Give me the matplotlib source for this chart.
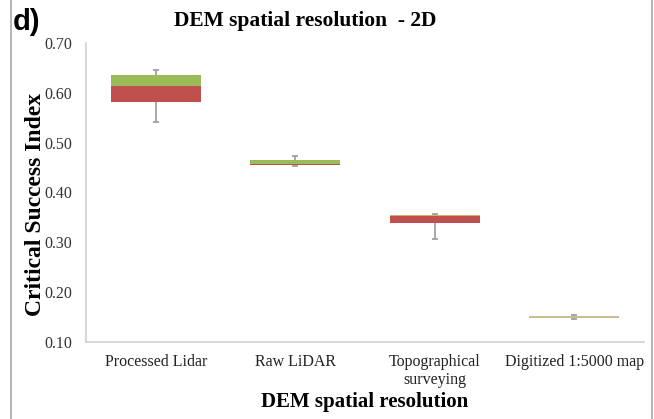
import numpy as np
import matplotlib.pyplot as plt
from matplotlib.lines import Line2D

# Box summary per DEM source (Critical Success Index)
categories = ["Processed Lidar", "Raw LiDAR", "Topographical\nsurveying", "Digitized 1:5000 map"]
csi_min = [0.542, 0.453, 0.307, 0.146]
csi_q1 = [0.582, 0.455, 0.339, 0.1475]
csi_median = [0.613, 0.4575, 0.352, 0.150]
csi_q3 = [0.636, 0.4655, 0.3555, 0.1525]
csi_max = [0.646, 0.4735, 0.3565, 0.154]

red = "#C0504D"
green = "#9BBB59"
tan = "#C9BC8E"
lower_colors = [red, red, red, tan]
upper_colors = [green, green, "#C8B070", tan]

serif = ["Liberation Serif", "DejaVu Serif"]

fig = plt.figure(figsize=(6.54, 4.19), dpi=100)
ax = fig.add_axes([86 / 654, 1 - 342 / 419, (644 - 86) / 654, (342 - 43) / 419])

x = np.arange(len(categories))
q1 = np.array(csi_q1)
med = np.array(csi_median)
q3 = np.array(csi_q3)

# whiskers sit behind the boxes, like the Excel stock chart
ax.errorbar(x, med, yerr=[med - np.array(csi_min), np.array(csi_max) - med],
            fmt="none", ecolor="#9a9a9a", elinewidth=1.2, capsize=2.5,
            capthick=1.2, zorder=1)

width = 0.645
ax.bar(x, med - q1, bottom=q1, width=width, color=lower_colors, zorder=2)
ax.bar(x, q3 - med, bottom=med, width=width, color=upper_colors, zorder=2)

ax.set_xlim(-0.5, 3.5)
ax.set_ylim(0.10, 0.70)
ax.set_yticks(np.arange(0.10, 0.701, 0.10))
ax.set_yticklabels([f"{v:.2f}" for v in np.arange(0.10, 0.701, 0.10)],
                   fontfamily=serif, fontsize=11.5, color="#333333")
ax.set_xticks(x)
ax.set_xticklabels(categories, fontfamily=serif, fontsize=11.5,
                   color="#222222", linespacing=1.1, va="top")
ax.tick_params(axis="both", length=0)
ax.tick_params(axis="y", pad=10)
ax.tick_params(axis="x", pad=9)

for side in ("top", "right"):
    ax.spines[side].set_visible(False)
for side in ("left", "bottom"):
    ax.spines[side].set_color("#d0d0d0")
    ax.spines[side].set_linewidth(1.2)

ax.set_ylabel("Critical Success Index", fontfamily=serif, fontsize=17,
              fontweight="bold")
ax.yaxis.set_label_coords(-0.072, 0.46)
ax.set_xlabel("DEM spatial resolution", fontfamily=serif, fontsize=15,
              fontweight="bold")
ax.xaxis.set_label_coords(0.5, -0.168)

fig.text(305 / 654, 1 - 21 / 419, "DEM spatial resolution  - 2D",
         fontfamily=serif, fontsize=15.5, fontweight="bold",
         ha="center", va="center")
fig.text(13 / 654, 1 - 22 / 419, "d)", fontfamily=["Liberation Sans", "DejaVu Sans"],
         fontsize=21, fontweight="bold", ha="left", va="center")

# panel frame edges
for xe in (10.5 / 654, 651.5 / 654):
    fig.add_artist(Line2D([xe, xe], [0, 1], transform=fig.transFigure,
                          color="#a8a8a8", linewidth=1.2))

fig.savefig("out.png", dpi=100)
